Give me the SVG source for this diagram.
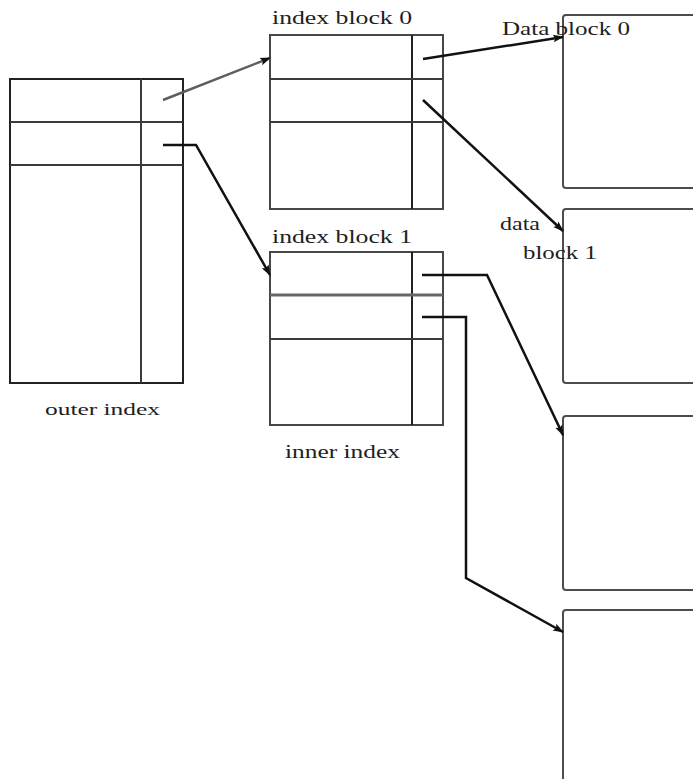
<svg xmlns="http://www.w3.org/2000/svg" width="693" height="779" viewBox="0 0 693 779">
<style>
.box{fill:none;stroke:#474747;stroke-width:2}
.grid{stroke:#3a3a3a;stroke-width:2;fill:none}
.thick{stroke:#666;stroke-width:3}
.blk{fill:none;stroke:#4d4d4d;stroke-width:2}
.arr{fill:none;stroke:#111;stroke-width:2.5;marker-end:url(#ah)}
.arrg{fill:none;stroke:#5e5e5e;stroke-width:2.5;marker-end:url(#ah)}
.lbl{font-family:"Liberation Serif","Times New Roman",serif;font-size:18px;fill:#1e1e1e}
</style>
<defs>
<marker id="ah" viewBox="0 0 10 10" refX="9" refY="5" markerWidth="11" markerHeight="11" orient="auto" markerUnits="userSpaceOnUse">
<path d="M0,1.5 L10,5 L0,8.5 L2,5 Z" fill="#111"/>
</marker>
</defs>
<rect width="693" height="779" fill="#fff"/>

<g id="outer-index">
<rect class="box" x="10" y="79" width="173" height="304" style="stroke:#222"/>
<line class="grid" x1="141" y1="79" x2="141" y2="383"/>
<line class="grid" x1="10" y1="122" x2="183" y2="122"/>
<line class="grid" x1="10" y1="165" x2="183" y2="165"/>
<text class="lbl" x="45" y="415" textLength="115" lengthAdjust="spacingAndGlyphs" style="font-size:16px">outer index</text>
</g>

<g id="index-block-0">
<rect class="box" x="270" y="35" width="173" height="174"/>
<line class="grid" x1="412" y1="35" x2="412" y2="209" style="stroke:#222"/>
<line class="grid" x1="270" y1="79" x2="443" y2="79"/>
<line class="grid" x1="270" y1="122" x2="443" y2="122"/>
<text class="lbl" x="272" y="24" textLength="140" lengthAdjust="spacingAndGlyphs">index block 0</text>
</g>

<g id="index-block-1">
<rect class="box" x="270" y="252" width="173" height="173"/>
<line class="grid" x1="412" y1="252" x2="412" y2="425" style="stroke:#222"/>
<line class="thick" x1="270" y1="295" x2="443" y2="295"/>
<line class="grid" x1="270" y1="339" x2="443" y2="339"/>
<text class="lbl" x="272" y="243" textLength="140" lengthAdjust="spacingAndGlyphs">index block 1</text>
<text class="lbl" x="285" y="458" textLength="115" lengthAdjust="spacingAndGlyphs">inner index</text>
</g>

<g id="data-block-0">
<path class="blk" d="M700,15 H566 Q563,15 563,18 V185 Q563,188 566,188 H700"/>
<text class="lbl" x="502" y="35" textLength="128" lengthAdjust="spacingAndGlyphs">Data block 0</text>
</g>

<g id="data-block-1">
<path class="blk" d="M700,209 H566 Q563,209 563,212 V380 Q563,383 566,383 H700"/>
<text class="lbl" x="500" y="230" textLength="40" lengthAdjust="spacingAndGlyphs">data</text>
<text class="lbl" x="523" y="259" textLength="74" lengthAdjust="spacingAndGlyphs">block 1</text>
</g>

<g id="data-block-2">
<path class="blk" d="M700,416 H566 Q563,416 563,419 V587 Q563,590 566,590 H700"/>
</g>

<g id="data-block-3">
<path class="blk" d="M700,610 H566 Q563,610 563,613 V785"/>
</g>

<g id="connectors">
<line class="arrg" x1="163" y1="100" x2="270" y2="58"/>
<polyline class="arr" points="163,145 196,145 270,275"/>
<line class="arr" x1="423" y1="59" x2="563" y2="37"/>
<line class="arr" x1="423" y1="100" x2="563" y2="231"/>
<polyline class="arr" points="422,275 487,275 563,435"/>
<polyline class="arr" points="422,317 466,317 466,578 563,632"/>
</g>
</svg>
